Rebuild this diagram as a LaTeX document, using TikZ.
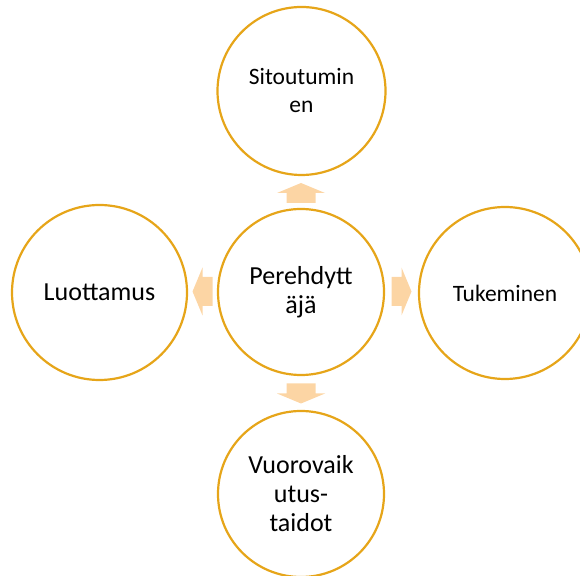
\documentclass[tikz,border=0pt]{standalone}
\usepackage{fontspec}
\setmainfont{Carlito}

\definecolor{kehys}{RGB}{230,165,25}
\definecolor{nuoli}{RGB}{252,213,164}

% lohkonuoli: keskipiste (#1,#2), suunta #3
\newcommand{\lohkonuoli}[3]{%
  \fill[nuoli,shift={(#1,#2)},rotate=#3]
    (-14.5,-10) -- (14.5,-10) -- (14.5,0) -- (24,0) -- (0,10)
    -- (-24,0) -- (-14.5,0) -- cycle;}

\begin{document}
\begin{tikzpicture}[x=1pt,y=1pt,
    ympyra/.style={circle,draw=kehys,line width=2.2pt,fill=white,
      inner sep=0pt,align=center},
    isoteksti/.style={font=\fontsize{26}{29}\selectfont},
    pieniteksti/.style={font=\fontsize{23.5}{28}\selectfont}]
        % =========================================================
        % Kuva 580 x 575, yksikko = 1 px
        % =========================================================
        \useasboundingbox (0,0) rectangle (580,575);

        % ---------------------------------------------------------
        % Keskella: perehdyttaja
        % ---------------------------------------------------------
        \node[ympyra,isoteksti,minimum size=166pt] (perehdyttaja)
        at (301,283) {Perehdytt\\äjä};

        % ---------------------------------------------------------
        % Ymparilla olevat ympyrat
        % ---------------------------------------------------------
        \node[ympyra,pieniteksti,minimum size=168pt] (sitoutuminen)
        at (301.5,484) {Sitoutumin\\en};

        \node[ympyra,isoteksti,minimum size=175pt] (luottamus)
        at (99.5,282.5) {Luottamus};

        \node[ympyra,pieniteksti,minimum size=172pt] (tukeminen)
        at (505,282) {Tukeminen};

        \node[ympyra,isoteksti,minimum size=166pt] (vuorovaikutus)
        at (301,81) {Vuorovaik\\utus-\\taidot};

        % ---------------------------------------------------------
        % Nuolet keskelta ulospain
        % ---------------------------------------------------------
        \lohkonuoli{301}{382}{0}
        \lohkonuoli{202.5}{283.5}{90}
        \lohkonuoli{401.5}{283.5}{-90}
        \lohkonuoli{301}{181.5}{180}

    \end{tikzpicture}
\end{document}
